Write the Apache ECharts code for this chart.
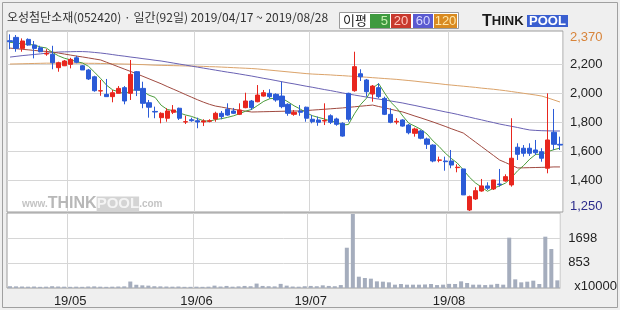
<!DOCTYPE html>
<html><head><meta charset="utf-8">
<script src="https://cdn.jsdelivr.net/npm/echarts@6/dist/echarts.min.js"></script>
<style>html,body{margin:0;padding:0;background:#efefef}#c{width:620px;height:310px}</style>
</head><body><div id="c"></div>
<script>
const dates = [
'2019/04/17','2019/04/18','2019/04/19','2019/04/22','2019/04/23','2019/04/24','2019/04/25','2019/04/26','2019/04/29','2019/04/30',
'2019/05/02','2019/05/03','2019/05/07','2019/05/08','2019/05/09','2019/05/10','2019/05/13','2019/05/14','2019/05/15','2019/05/16','2019/05/17',
'2019/05/20','2019/05/21','2019/05/22','2019/05/23','2019/05/24','2019/05/27','2019/05/28','2019/05/29','2019/05/30','2019/05/31',
'2019/06/03','2019/06/04','2019/06/05','2019/06/07','2019/06/10','2019/06/11','2019/06/12','2019/06/13','2019/06/14',
'2019/06/17','2019/06/18','2019/06/19','2019/06/20','2019/06/21','2019/06/24','2019/06/25','2019/06/26','2019/06/27','2019/06/28',
'2019/07/01','2019/07/02','2019/07/03','2019/07/04','2019/07/05','2019/07/08','2019/07/09','2019/07/10','2019/07/11','2019/07/12',
'2019/07/15','2019/07/16','2019/07/17','2019/07/18','2019/07/19','2019/07/22','2019/07/23','2019/07/24','2019/07/25','2019/07/26',
'2019/07/29','2019/07/30','2019/07/31',
'2019/08/01','2019/08/02','2019/08/05','2019/08/06','2019/08/07','2019/08/08','2019/08/09','2019/08/12','2019/08/13','2019/08/14',
'2019/08/16','2019/08/19','2019/08/20','2019/08/21','2019/08/22','2019/08/23','2019/08/26','2019/08/27','2019/08/28'];

const opens  = [2361,2384,2308,2370,2331,2312,2269,2267,2175,2188,2198,2243,2188,2159,2112,2014,1991,1975,1998,2037,1998,2147,2032,1933,1873,1830,1826,1867,1895,1800,
1816,1809,1800,1805,1821,1860,1888,1876,1853,1899,1945,1940,1979,1998,1991,1979,1922,1853,1876,1902,1819,1814,1807,1843,1821,1791,1998,2016,2133,2090,
1993,2037,1963,1853,1800,1814,1779,1722,1738,1683,1641,1536,1531,1531,1485,1476,1193,1269,1324,1359,1338,1372,1393,1366,1626,1619,1619,1607,1595,1481,1729,1646];
const closes = [2354,2308,2359,2331,2308,2285,2274,2209,2209,2221,2232,2212,2159,2097,2016,2016,1975,2002,2032,1945,2129,2019,1929,1902,1869,1860,1876,1883,1826,1802,
1809,1800,1807,1809,1860,1837,1848,1860,1883,1945,1899,1986,2002,1975,1952,1906,1860,1867,1867,1826,1802,1798,1810,1798,1784,1703,1819,2182,2112,2009,
2048,1975,1853,1798,1805,1772,1726,1752,1688,1646,1531,1538,1526,1503,1488,1297,1285,1326,1359,1343,1400,1368,1423,1550,1577,1584,1584,1588,1550,1676,1646,1641];
const lows   = [2303,2285,2285,2326,2239,2281,2257,2164,2147,2186,2170,2205,2159,2090,2009,1981,1975,1936,1998,1922,1952,1979,1895,1830,1826,1791,1802,1855,1814,1786,
1802,1757,1772,1798,1802,1819,1843,1855,1848,1895,1883,1936,1975,1963,1940,1895,1843,1843,1843,1802,1791,1774,1779,1786,1774,1699,1802,2009,2083,1975,
1940,1963,1848,1791,1784,1768,1715,1699,1681,1614,1522,1522,1464,1481,1453,1297,1186,1262,1319,1331,1331,1354,1388,1354,1538,1561,1566,1572,1526,1446,1607,1607];
const highs  = [2405,2400,2377,2377,2359,2326,2303,2326,2216,2228,2243,2257,2193,2166,2119,2090,2097,2021,2048,2048,2228,2152,2078,1952,1906,1867,1895,1917,1899,1843,
1830,1830,1819,1819,1871,1876,1929,1897,1929,2002,1952,2055,2021,2026,1998,2078,1929,1883,1917,1906,1848,1837,1929,1853,1830,1798,2002,2285,2164,2097,
2055,2067,1975,1895,1826,1819,1786,1761,1745,1692,1646,1561,1561,1607,1508,1476,1292,1350,1407,1384,1400,1476,1439,1826,1653,1641,1653,1676,1619,1998,1890,1699];

const ma5 = [2350,2345,2340,2335,2332,2318,2311,2281,2257,2240,2229,2217,2207,2184,2143,2100,2053,2021,2008,1994,2017,2025,2011,1985,1970,1916,1887,1878,1863,1849,
1839,1824,1809,1805,1817,1823,1832,1843,1858,1875,1887,1915,1943,1961,1963,1964,1939,1912,1890,1865,1844,1832,1821,1807,1798,1779,1783,1857,1920,1965,
2034,2065,1999,1937,1896,1841,1791,1771,1749,1717,1669,1631,1586,1549,1517,1470,1420,1380,1351,1322,1343,1359,1379,1417,1464,1500,1544,1577,1577,1596,1609,1620];
const ma20 = [2310,2306,2302,2298,2294,2290,2287,2283,2276,2269,2262,2255,2249,2242,2235,2228,2212,2196,2180,2164,2148,2132,2115,2098,2081,2064,2045,2027,2009,1990,
1972,1954,1937,1922,1910,1903,1895,1888,1881,1875,1869,1870,1871,1872,1873,1874,1875,1876,1876,1879,1882,1885,1888,1891,1894,1897,1901,1905,1909,1913,
1917,1907,1898,1888,1878,1869,1855,1841,1828,1814,1800,1785,1770,1754,1739,1724,1693,1662,1631,1600,1569,1538,1520,1501,1483,1484,1485,1486,1487,1488,1490,1490];
const ma60 = [2248,2253,2258,2262,2266,2270,2275,2279,2283,2284,2285,2286,2286,2284,2280,2276,2271,2265,2259,2254,2248,2243,2237,2232,2226,2221,2214,2207,2200,2193,
2186,2179,2172,2165,2158,2151,2144,2138,2131,2124,2117,2109,2101,2094,2086,2078,2070,2063,2055,2047,2040,2032,2024,2017,2009,2001,1993,1986,1979,1972,
1965,1958,1952,1945,1938,1931,1922,1914,1905,1896,1888,1879,1870,1862,1853,1843,1834,1824,1815,1805,1796,1786,1778,1770,1762,1753,1745,1742,1740,1739,1738,1738];
const ma120 = [2200,2201,2202,2203,2204,2205,2206,2206,2207,2207,2207,2206,2206,2205,2205,2204,2203,2202,2201,2200,2199,2197,2196,2194,2192,2191,2190,2189,2188,2187,
2186,2185,2184,2182,2181,2179,2177,2175,2173,2171,2169,2166,2162,2158,2154,2150,2146,2142,2138,2134,2131,2129,2127,2125,2122,2120,2117,2115,2112,2109,
2106,2103,2100,2097,2094,2090,2086,2082,2077,2073,2068,2064,2059,2055,2051,2047,2043,2039,2034,2030,2026,2021,2016,2010,2004,1998,1992,1986,1979,1966,1952,1938];

const volumes = [60,55,50,45,50,40,45,60,50,45,40,45,40,50,55,45,40,45,50,55,220,110,90,80,60,55,50,45,50,40,
40,45,40,45,80,50,70,45,55,70,60,150,70,60,55,140,80,50,45,60,70,60,90,70,60,100,1368,2513,384,340,
317,226,215,192,113,136,113,113,113,120,136,100,113,140,136,226,170,113,113,100,113,140,113,1709,294,192,215,249,136,1743,1324,260];

const priceGrid = [1400,1600,1800,2000,2200];
const priceLabels = [1250,1400,1600,1800,2000,2200,2370];
const volGrid = [853,1698];
const volLabels = [0,853,1698];
const monthStarts = ['2019/05/02','2019/06/03','2019/07/01','2019/08/01'];

const chart = echarts.init(document.getElementById('c'), null, {renderer:'canvas'});
const isMonth = (i) => monthStarts.indexOf(dates[i]) >= 0;
const fmt = (v) => v.toLocaleString('en-US');
const labelFont = 'Liberation Sans';

chart.setOption({
  animation: false,
  backgroundColor: '#efefef',
  grid: [
    {left: 7, top: 31, width: 556, height: 181, show: true, backgroundColor: '#fff', borderColor: '#9c9c9c', borderWidth: 1},
    {left: 7, top: 213, width: 556, height: 75, show: true, backgroundColor: '#fff', borderColor: '#9c9c9c', borderWidth: 1}
  ],
  xAxis: [
    {gridIndex: 0, type: 'category', data: dates, boundaryGap: true,
     axisLine: {show: false}, axisTick: {show: false}, axisLabel: {show: false},
     splitLine: {show: true, interval: (i) => isMonth(i), lineStyle: {color: '#d6d6d6'}}},
    {gridIndex: 1, type: 'category', data: dates, boundaryGap: true,
     axisLine: {show: false}, axisTick: {show: false},
     axisLabel: {show: true, interval: (i) => isMonth(i), margin: 7, color: '#222', fontSize: 13, fontFamily: labelFont,
       formatter: (v) => v.slice(2, 4) + '/' + v.slice(5, 7)},
     splitLine: {show: true, interval: (i) => isMonth(i), lineStyle: {color: '#d6d6d6'}}}
  ],
  yAxis: [
    {gridIndex: 0, type: 'value', position: 'right', min: 1179, max: 2428, scale: true,
     axisLine: {show: false}, axisTick: {show: false, customValues: priceGrid},
     splitLine: {show: true, lineStyle: {color: '#d6d6d6'}},
     axisLabel: {customValues: priceLabels, margin: 7, color: '#222', fontSize: 13, fontFamily: labelFont,
       formatter: (v) => v === 2370 ? '{hi|' + fmt(v) + '}' : (v === 1250 ? '{lo|' + fmt(v) + '}' : fmt(v)),
       rich: {hi: {color: '#d8843a', fontSize: 13, fontFamily: labelFont, padding: [0, 0, 3, 0]},
              lo: {color: '#2c2c8c', fontSize: 13, fontFamily: labelFont, padding: [10, 0, 0, 0]}}}},
    {gridIndex: 1, type: 'value', position: 'right', min: 0, max: 2547,
     axisLine: {show: false}, axisTick: {show: false, customValues: volGrid},
     splitLine: {show: true, lineStyle: {color: '#d6d6d6'}},
     axisLabel: {customValues: volLabels, margin: 8, color: '#222', fontSize: 13, fontFamily: labelFont,
       formatter: (v) => v === 0 ? '{u|x10000}' : String(v),
       rich: {u: {fontSize: 13, fontFamily: labelFont, color: '#222', padding: [0, 0, 4, 6]}}}}
  ],
  graphic: [
    {type: 'rect', z: 100, silent: true, shape: {x: 2.5, y: 2.5, width: 615, height: 305}, style: {fill: 'none', stroke: '#a0a0a0', lineWidth: 1}},
    {type: 'text', left: 7, top: 11, silent: true, style: {text: '오성첨단소재(052420) · 일간(92일) 2019/04/17 ~ 2019/08/28', font: '12px "Noto Sans CJK KR"', fill: '#333'}},
    {type: 'rect', silent: true, shape: {x: 339.5, y: 12.5, width: 119, height: 16}, style: {fill: '#fff', stroke: '#9a9a9a'}},
    {type: 'text', silent: true, x: 343, y: 20.5, style: {text: '이평', font: '13px "Noto Sans CJK KR"', fill: '#222', verticalAlign: 'middle'}},
    {type: 'rect', silent: true, shape: {x: 370, y: 14, width: 20, height: 14}, style: {fill: '#3f9a3f'}},
    {type: 'text', silent: true, x: 388, y: 21, style: {text: '5', font: '13px Liberation Sans', fill: '#c8f0b0', align: 'right', verticalAlign: 'middle'}},
    {type: 'rect', silent: true, shape: {x: 391, y: 14, width: 20, height: 14}, style: {fill: '#c8392e'}},
    {type: 'text', silent: true, x: 401, y: 21, style: {text: '20', font: '13px Liberation Sans', fill: '#ffc8c0', align: 'center', verticalAlign: 'middle'}},
    {type: 'rect', silent: true, shape: {x: 413, y: 14, width: 20, height: 14}, style: {fill: '#5a5ad0'}},
    {type: 'text', silent: true, x: 423, y: 21, style: {text: '60', font: '13px Liberation Sans', fill: '#d8d8ff', align: 'center', verticalAlign: 'middle'}},
    {type: 'rect', silent: true, shape: {x: 434, y: 14, width: 23, height: 14}, style: {fill: '#d98a20'}},
    {type: 'text', silent: true, x: 445.5, y: 21, style: {text: '120', font: '13px Liberation Sans', fill: '#ffe6a8', align: 'center', verticalAlign: 'middle'}},
    {type: 'text', silent: true, x: 482, y: 21.5, style: {text: '{t|T}{h|HINK}', verticalAlign: 'middle',
       rich: {t: {font: 'bold 16px Liberation Sans', fill: '#1a1a1a'}, h: {font: 'bold 13px Liberation Sans', fill: '#1a1a1a'}}}},
    {type: 'rect', silent: true, shape: {x: 527, y: 15, width: 41, height: 12}, style: {fill: '#3a5fd0'}},
    {type: 'text', silent: true, x: 547.5, y: 21.5, style: {text: 'POOL', font: 'bold 13px Liberation Sans', fill: '#fff', align: 'center', verticalAlign: 'middle'}},
    {type: 'text', silent: true, z: 1, x: 22, y: 204, style: {text: '{w|www.}{t|THINK}{p|POOL}{w|.com}', verticalAlign: 'middle',
       rich: {w: {font: 'bold 10px Liberation Sans', fill: '#c4c4c4'}, t: {font: 'bold 16px Liberation Sans', fill: '#b8b8b8'},
              p: {font: 'bold 15px Liberation Sans', fill: '#f4f4f4', backgroundColor: '#d4d4d4'}}}}
  ],
  series: [
    {type: 'candlestick', xAxisIndex: 0, yAxisIndex: 0, barWidth: '78%', z: 3,
     data: dates.map((d, i) => [opens[i], closes[i], lows[i], highs[i]]),
     itemStyle: {color: '#e8261e', color0: '#2b5bd7', borderColor: '#e8261e', borderColor0: '#2b5bd7', borderWidth: 1}},
    {type: 'line', xAxisIndex: 0, yAxisIndex: 0, data: ma120, showSymbol: false, z: 2, lineStyle: {color: '#dba36a', width: 1}},
    {type: 'line', xAxisIndex: 0, yAxisIndex: 0, data: ma60, showSymbol: false, z: 2, lineStyle: {color: '#6a62b4', width: 1}},
    {type: 'line', xAxisIndex: 0, yAxisIndex: 0, data: ma20, showSymbol: false, z: 2, lineStyle: {color: '#a04a40', width: 1}},
    {type: 'line', xAxisIndex: 0, yAxisIndex: 0, data: ma5, showSymbol: false, z: 2, lineStyle: {color: '#4c9c3c', width: 1}},
    {type: 'bar', xAxisIndex: 1, yAxisIndex: 1, data: volumes, barWidth: 4, itemStyle: {color: '#a5adbd'}}
  ]
});
</script></body></html>
